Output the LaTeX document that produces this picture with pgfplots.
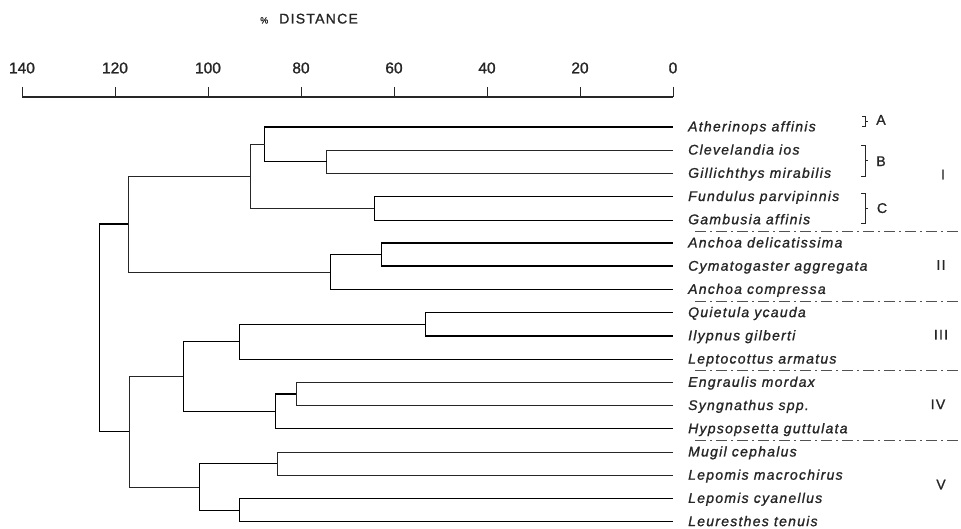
\documentclass[border=0pt]{standalone}
\usepackage{fontspec}
\setmainfont{Liberation Sans}
\newfontfamily\lbl[LetterSpace=9,FakeBold=1.2]{Liberation Sans}
\newfontfamily\tck[FakeBold=1.2]{Liberation Sans}
\usepackage{pgfplots}
\pgfplotsset{compat=1.18}
\definecolor{ink}{gray}{0.15}
\begin{document}
\begin{tikzpicture}
\begin{axis}[
  scale only axis,
  width=651pt, height=431.6pt,
  x dir=reverse, xmin=0, xmax=140,
  ymin=-17.3, ymax=1.285,
  axis x line=top, axis y line=none,
  x axis line style={-, line width=1.4pt, ink},
  xtick={0,20,...,140},
  xtick align=outside, major tick length=10pt,
  xtick style={line width=0.8pt, ink},
  xticklabel style={font=\tck\fontsize{15.5}{16}\selectfont, text=ink, yshift=10pt},
  /pgf/number format/assume math mode=true,
  clip=false,
  cycle list={{ink, line width=1.5pt, mark=none}},
]
% dendrogram links (distance, -leaf index)
\addplot coordinates {(0,-1) (74.5,-1) (74.5,-2) (0,-2)};
\addplot coordinates {(0,0) (87.8,0) (87.8,-1.5) (74.5,-1.5)};
\addplot coordinates {(0,-3) (64.3,-3) (64.3,-4) (0,-4)};
\addplot coordinates {(87.8,-0.75) (91,-0.75) (91,-3.5) (64.3,-3.5)};
\addplot coordinates {(0,-5) (62.7,-5) (62.7,-6) (0,-6)};
\addplot coordinates {(62.7,-5.5) (73.8,-5.5) (73.8,-7) (0,-7)};
\addplot coordinates {(91,-2.125) (117.1,-2.125) (117.1,-6.25) (73.8,-6.25)};
\addplot coordinates {(0,-8) (53.2,-8) (53.2,-9) (0,-9)};
\addplot coordinates {(53.2,-8.5) (93.2,-8.5) (93.2,-10) (0,-10)};
\addplot coordinates {(0,-11) (81,-11) (81,-12) (0,-12)};
\addplot coordinates {(81,-11.5) (85.5,-11.5) (85.5,-13) (0,-13)};
\addplot coordinates {(93.2,-9.25) (105.4,-9.25) (105.4,-12.25) (85.5,-12.25)};
\addplot coordinates {(0,-14) (85.2,-14) (85.2,-15) (0,-15)};
\addplot coordinates {(0,-16) (93.2,-16) (93.2,-17) (0,-17)};
\addplot coordinates {(85.2,-14.5) (101.9,-14.5) (101.9,-16.5) (93.2,-16.5)};
\addplot coordinates {(105.4,-10.75) (117,-10.75) (117,-15.5) (101.9,-15.5)};
\addplot coordinates {(117.1,-4.1875) (123.3,-4.1875) (123.3,-13.125) (117,-13.125)};

% title
\node[anchor=base west, text=ink, inner sep=0pt] at (axis cs:88.8,4.45)
  {{\tck\fontsize{9}{9}\selectfont\%}\hspace{11pt}{\lbl\fontsize{14}{14}\selectfont DISTANCE}};

% leaf labels
\tikzset{leaf/.style={anchor=base west, inner sep=0pt, xshift=15pt, yshift=-4.5pt, text=ink,
  font=\lbl\itshape\fontsize{14}{14}\selectfont}}
\node[leaf] at (axis cs:0,0) {Atherinops affinis};
\node[leaf] at (axis cs:0,-1) {Clevelandia ios};
\node[leaf] at (axis cs:0,-2) {Gillichthys mirabilis};
\node[leaf] at (axis cs:0,-3) {Fundulus parvipinnis};
\node[leaf] at (axis cs:0,-4) {Gambusia affinis};
\node[leaf] at (axis cs:0,-5) {Anchoa delicatissima};
\node[leaf] at (axis cs:0,-6) {Cymatogaster aggregata};
\node[leaf] at (axis cs:0,-7) {Anchoa compressa};
\node[leaf] at (axis cs:0,-8) {Quietula ycauda};
\node[leaf] at (axis cs:0,-9) {Ilypnus gilberti};
\node[leaf] at (axis cs:0,-10) {Leptocottus armatus};
\node[leaf] at (axis cs:0,-11) {Engraulis mordax};
\node[leaf] at (axis cs:0,-12) {Syngnathus spp.};
\node[leaf] at (axis cs:0,-13) {Hypsopsetta guttulata};
\node[leaf] at (axis cs:0,-14) {Mugil cephalus};
\node[leaf] at (axis cs:0,-15) {Lepomis macrochirus};
\node[leaf] at (axis cs:0,-16) {Lepomis cyanellus};
\node[leaf] at (axis cs:0,-17) {Leuresthes tenuis};

\tikzset{grp/.style={anchor=center, inner sep=0pt, text=ink, font=\lbl\fontsize{14}{14}\selectfont}}
\node[grp] at ([xshift=208pt]axis cs:0,0.3) {A};
\node[grp] at ([xshift=208pt]axis cs:0,-1.48) {B};
\node[grp] at ([xshift=209pt]axis cs:0,-3.5) {C};
\node[grp] at ([xshift=270pt]axis cs:0,-2.05) {I};
\node[grp] at ([xshift=268pt]axis cs:0,-5.95) {II};
\node[grp] at ([xshift=268pt]axis cs:0,-8.95) {III};
\node[grp] at ([xshift=265pt]axis cs:0,-11.95) {IV};
\node[grp] at ([xshift=268pt]axis cs:0,-15.4) {V};

% anchor coordinates for separators and brackets
\coordinate (s1) at (axis cs:0,-4.5);
\coordinate (s2) at (axis cs:0,-7.5);
\coordinate (s3) at (axis cs:0,-10.5);
\coordinate (s4) at (axis cs:0,-13.5);
\coordinate (ba) at (axis cs:0,0.45);
\coordinate (ma) at (axis cs:0,0.24);
\coordinate (bb) at (axis cs:0,-0.8);
\coordinate (mb) at (axis cs:0,-1.46);
\coordinate (bc) at (axis cs:0,-2.85);
\coordinate (mc) at (axis cs:0,-3.5);
\coordinate (NW) at (axis cs:140,1.285);
\end{axis}
% separators
\tikzset{sep/.style={line width=0.8pt, ink!80, dash pattern=on 11pt off 4pt on 2pt off 4pt}}
\foreach \s in {s1,s2,s3,s4} \draw[sep] (\s) ++(22pt,0) -- ++(266pt,0);
% brackets
\tikzset{brk/.style={line width=0.7pt, ink}}
\draw[brk] (ba) ++(189pt,0) -- ++(3pt,0) -- ++(0,-10pt) -- ++(-3pt,0);
\draw[brk] (ma) ++(192pt,0) -- ++(3pt,0);
\draw[brk] (bb) ++(188pt,0) -- ++(4pt,0) -- ++(0,-31pt) -- ++(-4pt,0);
\draw[brk] (mb) ++(192pt,0) -- ++(3pt,0);
\draw[brk] (bc) ++(188pt,0) -- ++(4pt,0) -- ++(0,-30pt) -- ++(-4pt,0);
\draw[brk] (mc) ++(192pt,0) -- ++(3pt,0);
\pgfresetboundingbox
\path[use as bounding box] (NW) ++(-22pt,97pt) rectangle ++(961pt,-529pt);
\end{tikzpicture}
\end{document}
